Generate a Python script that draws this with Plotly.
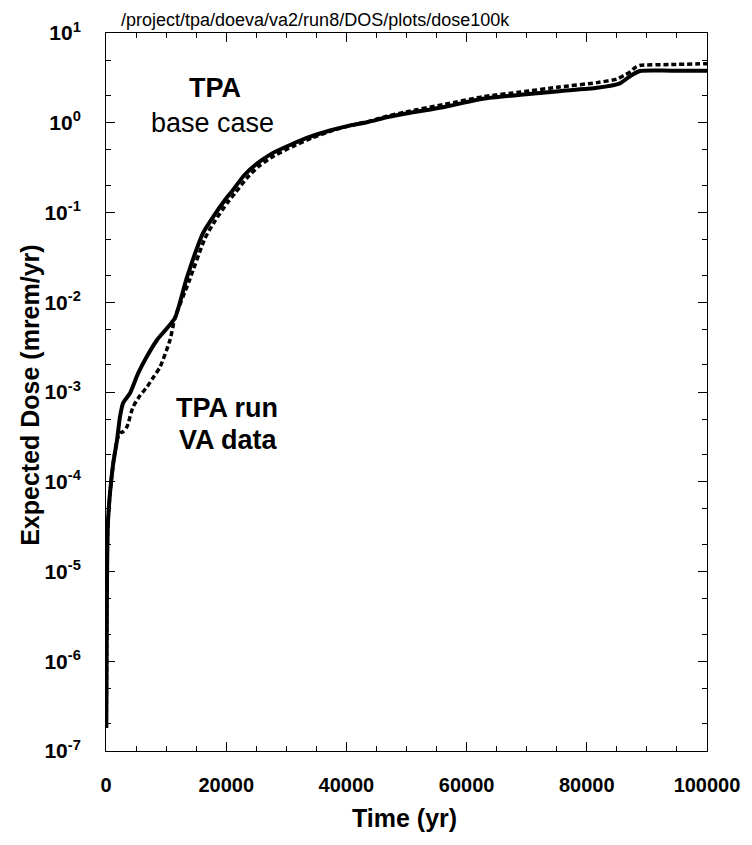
import plotly.graph_objects as go

# ---- data ----
solid_t = [50, 100, 170, 300, 666, 1200, 1830, 2330, 2830, 3990, 5320, 6820, 8490,
           10000, 11480, 13480, 16140, 17800, 19800, 21130, 23000, 25120, 27500,
           30620, 34000, 37270, 40500, 43600, 46700, 49900, 56300, 62700, 69000,
           75400, 81700, 85500, 87200, 88850, 94000, 100000]
solid_y = [1.8e-7, 1e-6, 8e-6, 3.2e-5, 7.5e-5, 1.6e-4, 2.9e-4, 5.3e-4, 7.5e-4,
           9.7e-4, 1.6e-3, 2.5e-3, 3.8e-3, 5.0e-3, 6.7e-3, 1.9e-2, 5.9e-2, 8.9e-2,
           0.138, 0.178, 0.26, 0.35, 0.45, 0.565, 0.7, 0.82, 0.93, 1.02, 1.15, 1.27,
           1.5, 1.85, 2.05, 2.25, 2.45, 2.75, 3.3, 3.77, 3.8, 3.8]

dashed_t = [50, 100, 170, 300, 666, 1200, 1830, 2330, 2830, 3490, 4490, 5600, 6820,
            8000, 8990, 10650, 11480, 13800, 16500, 18200, 20200, 21500, 23400,
            25500, 28000, 31000, 34300, 37500, 40600, 43600, 46700, 49900, 56300,
            62700, 69000, 75400, 81700, 85000, 86300, 87300, 88000, 88800, 94000,
            100000]
dashed_y = [1.8e-7, 1e-6, 8e-6, 3.2e-5, 7.5e-5, 1.6e-4, 2.9e-4, 3.5e-4, 3.6e-4,
            4.1e-4, 6.8e-4, 9e-4, 1.14e-3, 1.5e-3, 1.9e-3, 3.8e-3, 6.7e-3, 1.7e-2,
            5.2e-2, 8.2e-2, 0.128, 0.165, 0.24, 0.33, 0.43, 0.54, 0.68, 0.81, 0.93,
            1.03, 1.18, 1.32, 1.6, 1.95, 2.2, 2.5, 2.8, 3.07, 3.4, 3.7, 4.1, 4.35,
            4.45, 4.55]

y_exponents = [-7, -6, -5, -4, -3, -2, -1, 0, 1]
x_tickvals = [0, 20000, 40000, 60000, 80000, 100000]

FONT = "Liberation Sans, Arial, Helvetica, sans-serif"

fig = go.Figure()
fig.add_trace(go.Scatter(x=solid_t, y=solid_y, mode="lines",
                         line=dict(color="black", width=4, shape="spline", smoothing=0.6),
                         showlegend=False))
fig.add_trace(go.Scatter(x=dashed_t, y=dashed_y, mode="lines",
                         line=dict(color="black", width=3.5, dash="5px,3px",
                                   shape="spline", smoothing=0.6),
                         showlegend=False))

# page body has an 8px margin, so the figure is sized/offset to compensate
fig.update_layout(
    width=744, height=837,
    margin=dict(l=98, r=45, t=25, b=94),
    paper_bgcolor="white", plot_bgcolor="white",
    font=dict(family=FONT, color="black"),
    showlegend=False,
)

fig.update_xaxes(
    range=[0, 100000], tickvals=x_tickvals,
    ticktext=[str(v) for v in x_tickvals],
    tickfont=dict(size=20, family=FONT, weight="bold"),
    showgrid=False, zeroline=False,
    showline=True, linecolor="black", linewidth=1, mirror="ticks",
    ticks="inside", ticklen=9, tickcolor="black",
    minor=dict(dtick=5000, ticks="inside", ticklen=5, tickcolor="black"),
    ticklabelstandoff=16,
)
fig.update_yaxes(
    type="log", range=[-7, 1],
    tickvals=[10 ** e for e in y_exponents],
    ticktext=["10<sup>%d</sup>" % e for e in y_exponents],
    tickfont=dict(size=21, family=FONT, weight="bold"),
    showgrid=False, zeroline=False,
    showline=True, linecolor="black", linewidth=1, mirror="ticks",
    ticks="inside", ticklen=9, tickcolor="black",
    minor=dict(ticks="inside", ticklen=5, tickcolor="black", showgrid=False),
    ticklabelstandoff=20,
)

annotations = [
    dict(text="/project/tpa/doeva/va2/run8/DOS/plots/dose100k", xref="paper", yref="paper",
         x=0.0216, y=1.0345, xanchor="left", yanchor="top", showarrow=False,
         font=dict(size=18, family=FONT)),
    dict(text="<b>TPA</b>", xref="x", yref="y", x=18140, y=0.387, showarrow=False,
         font=dict(size=27, family=FONT)),
    dict(text="base case", xref="x", yref="y", x=17800, y=-0.003, showarrow=False,
         font=dict(size=27, family=FONT)),
    dict(text="<b>TPA run</b>", xref="x", yref="y", x=20130, y=-3.178, showarrow=False,
         font=dict(size=27, family=FONT)),
    dict(text="<b>VA data</b>", xref="x", yref="y", x=20300, y=-3.535, showarrow=False,
         font=dict(size=27, family=FONT)),
    dict(text="<b>Expected Dose (mrem/yr)</b>", xref="paper", yref="paper",
         x=-0.1265, y=0.496, textangle=-90, showarrow=False,
         xanchor="center", yanchor="middle", font=dict(size=25, family=FONT)),
    dict(text="<b>Time (yr)</b>", xref="paper", yref="paper",
         x=0.4975, y=-0.0933, showarrow=False, xanchor="center", yanchor="middle",
         font=dict(size=25, family=FONT)),
]
fig.update_layout(annotations=annotations)

fig.write_html("out.html")
